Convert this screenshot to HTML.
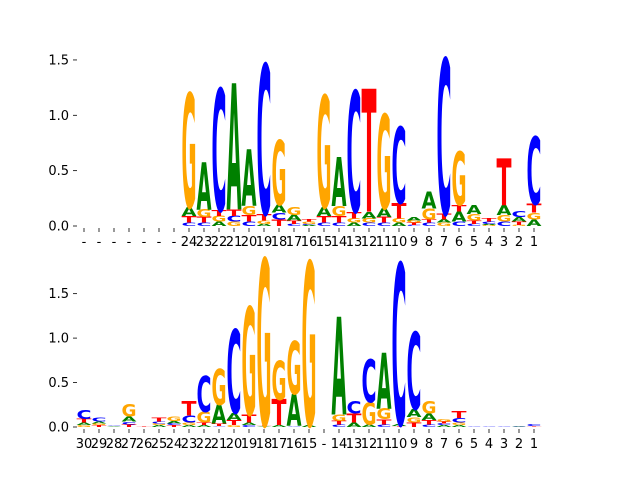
<!DOCTYPE html>
<html><head><meta charset="utf-8"><style>
html,body{margin:0;padding:0;background:#fff;}
svg{display:block;font-family:"DejaVu Sans","Liberation Sans",sans-serif;}
</style></head><body>
<svg id="chart" width="640" height="480" viewBox="0 0 640 480" xmlns="http://www.w3.org/2000/svg">
<g id="top"></g>
<g id="bottom"></g>
</svg>
<script>
const topLabels = ["-","-","-","-","-","-","-","24","23","22","21","20","19","18","17","16","15","14","13","12","11","10","9","8","7","6","5","4","3","2","1"];
const topColumns = [[],[],[],[],[],[],[],
 [["C",.03],["T",.06],["A",.08],["G",1.03]],
 [["C",.03],["T",.05],["G",.07],["A",.43]],
 [["A",.04],["G",.05],["T",.05],["C",1.1]],
 [["G",.04],["C",.05],["T",.06],["A",1.14]],
 [["C",.04],["T",.06],["G",.08],["A",.51]],
 [["A",.02],["G",.03],["T",.06],["C",1.35]],
 [["T",.06],["C",.06],["A",.07],["G",.58]],
 [["C",.02],["T",.03],["A",.05],["G",.07]],
 [["A",.01],["C",.01],["G",.02],["T",.02]],
 [["C",.03],["T",.06],["A",.08],["G",1.01]],
 [["C",.03],["T",.06],["G",.09],["A",.44]],
 [["A",.03],["G",.04],["T",.06],["C",1.09]],
 [["C",.03],["G",.04],["A",.06],["T",1.11]],
 [["C",.03],["T",.05],["A",.08],["G",.85]],
 [["A",.03],["G",.04],["T",.14],["C",.69]],
 [["C",.01],["T",.02],["G",.02],["A",.03]],
 [["C",.03],["T",.03],["G",.1],["A",.155]],
 [["G",.03],["A",.03],["T",.05],["C",1.4]],
 [["C",.04],["A",.09],["T",.06],["G",.48]],
 [["C",.02],["T",.03],["G",.06],["A",.08]],
 [["G",.01],["A",.01],["C",.02],["T",.03]],
 [["C",.04],["G",.06],["A",.09],["T",.42]],
 [["G",.01],["T",.03],["A",.04],["C",.05]],
 [["A",.06],["G",.06],["T",.08],["C",.61]]
];
const topTicks = [0, 0.5, 1.0, 1.5];

const bottomLabels = ["30","29","28","27","26","25","24","23","22","21","20","19","18","17","16","15","-","14","13","12","11","10","9","8","7","6","5","4","3","2","1"];
const bottomColumns = [
 [["G",.02],["A",.03],["T",.04],["C",.1]],
 [["T",.02],["G",.02],["A",.02],["C",.04]],
 [["A",.01],["C",.01]],
 [["T",.03],["C",.03],["A",.06],["G",.14]],
 [["T",.01]],
 [["A",.02],["G",.02],["C",.02],["T",.04]],
 [["T",.02],["C",.02],["A",.03],["G",.05]],
 [["A",.02],["G",.03],["C",.08],["T",.16]],
 [["A",.02],["T",.03],["G",.12],["C",.4]],
 [["C",.01],["T",.03],["A",.21],["G",.4]],
 [["G",.02],["T",.06],["A",.08],["C",.94]],
 [["C",.02],["A",.03],["T",.09],["G",1.21]],
 [["A",.01],["T",.01],["G",1.87]],
 [["A",.02],["T",.29],["G",.44]],
 [["C",.01],["A",.36],["G",.59]],
 [["A",.02],["G",1.84]],
 [],
 [["C",.03],["T",.04],["G",.07],["A",1.1]],
 [["A",.05],["T",.1],["C",.14]],
 [["A",.03],["G",.25],["C",.48]],
 [["C",.03],["T",.06],["G",.12],["A",.63]],
 [["T",.01],["A",.02],["C",1.81]],
 [["T",.05],["G",.06],["A",.09],["C",.86]],
 [["C",.03],["T",.05],["A",.07],["G",.14]],
 [["A",.02],["C",.02],["T",.02],["G",.03]],
 [["A",.02],["G",.03],["C",.05],["T",.08]],
 [["C",.005]],[["C",.005]],[["C",.005]],
 [["A",.005],["C",.005]],
 [["T",.01],["C",.02]]
];
const bottomTicks = [0, 0.5, 1.0, 1.5];

const colors = {A:"#008000",C:"#0000ff",G:"#ffa500",T:"#ff0000"};
const NS = "http://www.w3.org/2000/svg";

function drawPanel(g, labels, columns, ticks, base, pxPerUnit, labelY, prefix) {
  const xPos = i => 84 + 15 * i;
  const yPos = v => base - v * pxPerUnit;
  ticks.forEach(t => {
    const tk = document.createElementNS(NS, "line");
    
    
    tk.setAttribute("x1", 73); tk.setAttribute("x2", 77);
    tk.setAttribute("y1", yPos(t)); tk.setAttribute("y2", yPos(t));
    tk.setAttribute("stroke", "#000"); tk.setAttribute("stroke-width", "0.8");
    g.appendChild(tk);
    const tl = document.createElementNS(NS, "text");
    
    
    tl.setAttribute("x", 69); tl.setAttribute("y", yPos(t) + 4.5);
    tl.setAttribute("text-anchor", "end"); tl.setAttribute("font-size", "13");
    tl.textContent = t.toFixed(1);
    g.appendChild(tl);
  });
  labels.forEach((lab, i) => {
    const tk = document.createElementNS(NS, "line");
    
    
    tk.setAttribute("x1", xPos(i)); tk.setAttribute("x2", xPos(i));
    tk.setAttribute("y1", base + 2); tk.setAttribute("y2", base + 6);
    tk.setAttribute("stroke", "#000"); tk.setAttribute("stroke-width", "0.8");
    g.appendChild(tk);
    const tl = document.createElementNS(NS, "text");
    
    
    tl.setAttribute("x", xPos(i)); tl.setAttribute("y", labelY);
    tl.setAttribute("text-anchor", "middle"); tl.setAttribute("font-size", "13");
    tl.textContent = lab;
    g.appendChild(tl);
  });
  columns.forEach((col, i) => {
    let acc = 0;
    col.forEach(([letter, v]) => {
      const h = v * pxPerUnit;
      const yb = yPos(acc);
      acc += v;
      if (h <= 0) return;
      const t = document.createElementNS(NS, "text");
      
      
      t.setAttribute("x", 0); t.setAttribute("y", 0);
      t.setAttribute("font-size", "100");
      t.setAttribute("font-weight", "bold");
      t.setAttribute("font-family", "DejaVu Sans, sans-serif");
      t.setAttribute("textLength", "76");
      t.setAttribute("lengthAdjust", "spacingAndGlyphs");
      t.setAttribute("fill", colors[letter]);
      t.setAttribute("transform", `translate(${xPos(i) - 7.5},${yb}) scale(${15/76},${h/72.9})`);
      t.textContent = letter;
      g.appendChild(t);
    });
  });
}

drawPanel(document.getElementById("top"), topLabels, topColumns, topTicks, 226, 110.7, 246, "top");
drawPanel(document.getElementById("bottom"), bottomLabels, bottomColumns, bottomTicks, 427, 88.9, 448, "bottom");
</script>
</body></html>
